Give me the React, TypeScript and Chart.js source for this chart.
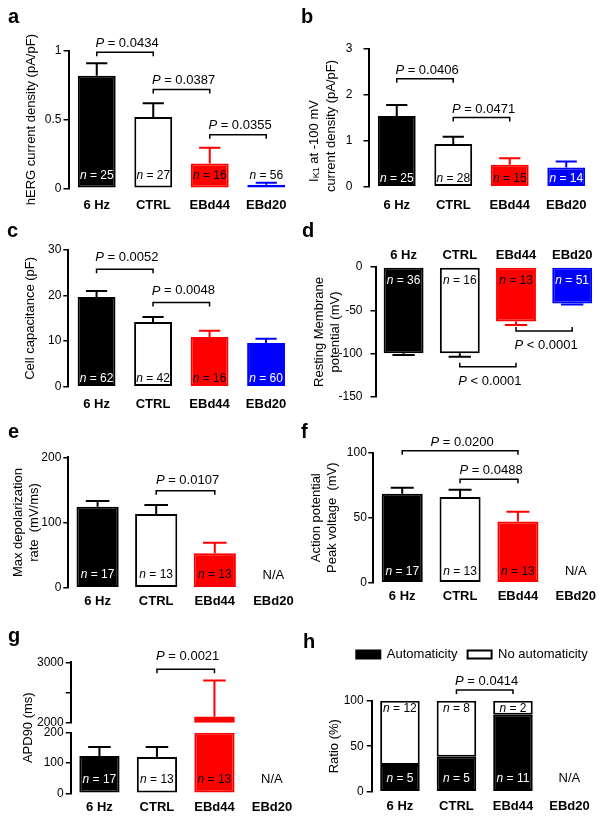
import React, { useEffect, useRef } from 'react';
import { Chart, registerables } from 'chart.js';

Chart.register(...registerables);

const FONT = "'Liberation Sans', Arial, Helvetica, sans-serif";
Chart.defaults.font.family = FONT;
Chart.defaults.color = '#000000';

// ---------------- data ----------------
const groups = ['6 Hz', 'CTRL', 'EBd44', 'EBd20'];

// a: hERG current density (pA/pF)
const hergMean = [0.82, 0.52, 0.18, 0.025];
const hergSem = [0.09, 0.1, 0.115, 0.015];
const hergN = [25, 27, 16, 56];

// b: IK1 at -100 mV current density (pA/pF)
const ik1Mean = [1.54, 0.93, 0.48, 0.42];
const ik1Sem = [0.24, 0.16, 0.14, 0.13];
const ik1N = [25, 28, 15, 14];

// c: cell capacitance (pF)
const capMean = [19.7, 14.2, 10.9, 9.6];
const capSem = [1.3, 1.1, 1.4, 0.9];
const capN = [62, 42, 16, 60];

// d: resting membrane potential (mV)
const rmpMean = [-99.5, -99.5, -63, -42];
const rmpSem = [2, 4, 4, 1.3];
const rmpN = [36, 16, 13, 51];

// e: max depolarization rate (mV/ms)
const dvdtMean = [124, 113, 53, null];
const dvdtSem = [9, 14, 16, null];
const dvdtN = [17, 13, 13, null];

// f: action potential peak voltage (mV)
const peakMean = [68.5, 66, 47, null];
const peakSem = [4.5, 5.5, 7.5, null];
const peakN = [17, 13, 13, null];

// g: APD90 (ms)
const apdMean = [123, 120, 2100, null];
const apdSem = [30, 33, 600, null];
const apdN = [17, 13, 13, null];

// h: automaticity counts
const autoN = [5, 5, 11, null];
const noAutoN = [12, 8, 2, null];

// significance annotations (level "at" in axis units)
const hergP = [
  { from: 0, to: 1, p: '= 0.0434', at: 0.99 },
  { from: 1, to: 2, p: '= 0.0387', at: 0.72 },
  { from: 2, to: 3, p: '= 0.0355', at: 0.39 },
];
const ik1P = [
  { from: 0, to: 1, p: '= 0.0406', at: 2.35 },
  { from: 1, to: 2, p: '= 0.0471', at: 1.51 },
];
const capP = [
  { from: 0, to: 1, p: '= 0.0052', at: 25.8 },
  { from: 1, to: 2, p: '= 0.0048', at: 18.5 },
];
const rmpP = [
  { from: 1, to: 2, p: '< 0.0001', at: -115 },
  { from: 2, to: 3, p: '< 0.0001', at: -73.8 },
];
const dvdtP = [{ from: 1, to: 2, p: '= 0.0107', at: 148.8 }];
const peakP = [
  { from: 0, to: 2, p: '= 0.0200', at: 101.5 },
  { from: 1, to: 2, p: '= 0.0488', at: 79.5 },
];
const apdP = [{ from: 1, to: 2, p: '= 0.0021', at: 2884 }];
const autoP = [{ from: 1, to: 2, p: '= 0.0414', at: 111.8 }];

// ---------------- styles / layout ----------------
const fills = ['#000000', '#ffffff', '#ff0000', '#0000ff'];
const edges = ['#000000', '#000000', '#ff0000', '#0000ff'];
const nColors = ['#ffffff', '#000000', '#000000', '#ffffff'];

const CW = 606;
const CH = 821;
const LOW_MAX = 200;
const HIGH_MIN = 2000;
const HIGH_MAX = 3000;

const G: any = {
  a: { left: 0, x0: 68.5, x1: 294.5, y0: 51, y1: 188.3, bar: 0.67 },
  b: { left: 300, x0: 368.5, x1: 594.5, y0: 49, y1: 186.7, bar: 0.67 },
  c: { left: 0, x0: 68.3, x1: 294.3, y0: 250, y1: 386.7, bar: 0.67 },
  d: { left: 300, x0: 375.5, x1: 600.3, y0: 267, y1: 397, bar: 0.71 },
  e: { left: 0, x0: 68.3, x1: 302.7, y0: 457.3, y1: 587.7, bar: 0.72 },
  f: { left: 300, x0: 373.3, x1: 604.7, y0: 452.7, y1: 582.7, bar: 0.71 },
  g: { left: 0, x0: 70.7, x1: 300.7, y0: 662.3, y1: 793.3, bar: 0.7 },
  h: { left: 300, x0: 371.7, x1: 597.7, y0: 700.7, y1: 791.7, bar: 0.7 },
};

type Part = { t: string; italic?: boolean; size?: number; dy?: number };

function drawParts(ctx: CanvasRenderingContext2D, parts: Part[], x: number, y: number, size: number, color: string) {
  ctx.save();
  ctx.fillStyle = color;
  ctx.textBaseline = 'middle';
  ctx.textAlign = 'left';
  const fonts = parts.map((p) => `${p.italic ? 'italic ' : ''}${p.size ?? size}px ${FONT}`);
  const widths = parts.map((p, i) => {
    ctx.font = fonts[i];
    return ctx.measureText(p.t).width;
  });
  const total = widths.reduce((s, w) => s + w, 0);
  let cx = x - total / 2;
  parts.forEach((p, i) => {
    ctx.font = fonts[i];
    ctx.fillText(p.t, cx, y + (p.dy ?? 0));
    cx += widths[i];
  });
  ctx.restore();
}

function drawRotated(ctx: CanvasRenderingContext2D, parts: Part[], cx: number, cy: number, size: number) {
  ctx.save();
  ctx.translate(cx, cy);
  ctx.rotate(-Math.PI / 2);
  drawParts(ctx, parts, 0, 0, size, '#000000');
  ctx.restore();
}

function decor(d: any) {
  return {
    id: 'decor',
    afterDraw(chart: any) {
      const ctx: CanvasRenderingContext2D = chart.ctx;
      const x = chart.scales.x;
      const yFor = d.yFor || (() => chart.scales.y);
      ctx.save();
      // panel letter
      ctx.font = `bold 20px ${FONT}`;
      ctx.fillStyle = '#000';
      ctx.textBaseline = 'alphabetic';
      ctx.textAlign = 'left';
      ctx.fillText(d.letter[0], d.letter[1], d.letter[2]);
      // error bars
      if (d.means && d.sems) {
        const meta = chart.getDatasetMeta(0);
        d.means.forEach((m: number | null, i: number) => {
          const s = d.sems[i];
          if (m == null || s == null) return;
          const ys = yFor(chart, i);
          const cx = x.getPixelForValue(i);
          const w = meta.data[i].width;
          const sign = m < 0 ? -1 : 1;
          const p0 = ys.getPixelForValue(m);
          const p1 = ys.getPixelForValue(m + sign * s);
          ctx.strokeStyle = edges[i];
          ctx.lineWidth = 2;
          ctx.beginPath();
          ctx.moveTo(cx, p0);
          ctx.lineTo(cx, p1);
          ctx.moveTo(cx - w * 0.28, p1);
          ctx.lineTo(cx + w * 0.28, p1);
          ctx.stroke();
        });
      }
      // n labels
      if (d.ns) {
        const zs = d.zeroAxis ? chart.scales[d.zeroAxis] : chart.scales.y;
        const zero = zs.getPixelForValue(0);
        d.ns.forEach((n: number | null, i: number) => {
          const cx = x.getPixelForValue(i);
          const cy = d.nDown ? zero + d.nOff : zero - d.nOff;
          if (n == null) {
            drawParts(ctx, [{ t: 'N/A' }], cx, cy, 13, '#000');
            return;
          }
          const end = yFor(chart, i).getPixelForValue(d.means[i]);
          const covered = d.nDown ? end > cy + 6 : end < cy - 6;
          drawParts(ctx, [{ t: 'n', italic: true }, { t: ` = ${n}` }], cx, cy, 12, covered ? nColors[i] : '#000');
        });
      }
      // significance brackets
      if (d.brackets) {
        const ys = d.bracketAxis ? chart.scales[d.bracketAxis] : chart.scales.y;
        const dir = d.below ? -1 : 1;
        d.brackets.forEach((b: any) => {
          const x1 = x.getPixelForValue(b.from);
          const x2 = x.getPixelForValue(b.to);
          const y = ys.getPixelForValue(b.at);
          ctx.strokeStyle = '#000';
          ctx.lineWidth = 1.5;
          ctx.beginPath();
          ctx.moveTo(x1, y + 4 * dir);
          ctx.lineTo(x1, y);
          ctx.lineTo(x2, y);
          ctx.lineTo(x2, y + 4 * dir);
          ctx.stroke();
          const ty = d.below ? y + d.gap : y - d.gap;
          drawParts(ctx, [{ t: 'P', italic: true }, { t: ' ' + b.p }], (x1 + x2) / 2 + 2, ty, 13, '#000');
        });
      }
      if (d.extra) d.extra(chart, ctx);
      ctx.restore();
    },
  };
}

// x axis box height grows with the label padding so the labels are not clipped
const xHeight = (pad: number) => pad + 19;

function xAxis(pad: number, position = 'bottom') {
  return {
    type: 'category',
    position,
    offset: true,
    afterFit: (s: any) => {
      s.height = xHeight(pad);
    },
    grid: { display: false, drawTicks: false },
    border: { display: false },
    ticks: { font: { size: 13, weight: 'bold' }, color: '#000', padding: pad, autoSkip: false, maxRotation: 0 },
  };
}

function yAxis(g: any, min: number, max: number, step: number, title: any, titlePad: number, tickPad: number, cb?: (v: number) => string) {
  return {
    type: 'linear',
    position: 'left',
    min,
    max,
    afterFit: (s: any) => {
      s.width = g.x0 - g.left;
    },
    ticks: { stepSize: step, font: { size: 12 }, color: '#000', padding: tickPad, callback: cb || ((v: number) => String(v)) },
    grid: { display: true, drawOnChartArea: false, drawTicks: true, tickLength: 5, color: '#000', lineWidth: 1.5 },
    border: { display: true, color: '#000', width: 2 },
    title: title
      ? { display: true, text: title, font: { size: 13, lineHeight: 1.23 }, color: '#000', padding: { top: titlePad, bottom: 0 } }
      : { display: false },
  };
}

const baseOpts = {
  responsive: false,
  animation: false,
  devicePixelRatio: 1,
  events: [],
};

function simplePanel(canvas: HTMLCanvasElement, c: any) {
  const g = c.g;
  const xh = xHeight(c.xPad);
  return new Chart(canvas, {
    type: 'bar',
    data: {
      labels: groups,
      datasets: [
        {
          data: c.means,
          backgroundColor: fills,
          borderColor: edges,
          borderWidth: 2,
          borderSkipped: false,
          barPercentage: g.bar,
          categoryPercentage: 1,
        },
      ],
    },
    options: {
      ...baseOpts,
      layout: {
        padding: {
          left: g.left,
          right: CW - g.x1,
          top: c.xTop ? g.y0 - xh : g.y0,
          bottom: c.xTop ? CH - g.y1 : CH - g.y1 - xh,
        },
      },
      plugins: { legend: { display: false }, tooltip: { enabled: false } },
      scales: {
        x: xAxis(c.xPad, c.xTop ? 'top' : 'bottom'),
        y: yAxis(g, c.min, c.max, c.step, c.title, c.titlePad, c.tickPad),
      },
    } as any,
    plugins: [
      decor({
        letter: c.letter,
        means: c.means,
        sems: c.sems,
        ns: c.ns,
        nOff: c.nOff,
        nDown: !!c.xTop,
        brackets: c.brackets,
        below: !!c.xTop,
        gap: c.gap,
        extra: c.extra,
      }),
    ],
  } as any);
}

function panelA(cv: HTMLCanvasElement) {
  return simplePanel(cv, {
    g: G.a, means: hergMean, sems: hergSem, ns: hergN, min: 0, max: 1, step: 0.5,
    title: 'hERG current density (pA/pF)', titlePad: 23, tickPad: 2, xPad: 8.9,
    nOff: 13, brackets: hergP, gap: 9, letter: ['a', 8, 23],
  });
}

function panelB(cv: HTMLCanvasElement) {
  return simplePanel(cv, {
    g: G.b, means: ik1Mean, sems: ik1Sem, ns: ik1N, min: 0, max: 3, step: 1,
    title: null, titlePad: 0, tickPad: 11, xPad: 10.5,
    nOff: 8.5, brackets: ik1P, gap: 8, letter: ['b', 301, 23],
    extra: (_c: any, ctx: CanvasRenderingContext2D) => {
      drawRotated(ctx, [{ t: 'I' }, { t: 'K1', size: 9, dy: 3 }, { t: ' at -100 mV' }], 314, 141, 13);
      drawRotated(ctx, [{ t: 'current density (pA/pF)' }], 331, 126, 13);
    },
  });
}

function panelC(cv: HTMLCanvasElement) {
  return simplePanel(cv, {
    g: G.c, means: capMean, sems: capSem, ns: capN, min: 0, max: 30, step: 10,
    title: 'Cell capacitance (pF)', titlePad: 22, tickPad: 2, xPad: 9.5,
    nOff: 8, brackets: capP, gap: 11.5, letter: ['c', 7, 237],
  });
}

function panelD(cv: HTMLCanvasElement) {
  return simplePanel(cv, {
    g: G.d, means: rmpMean, sems: rmpSem, ns: rmpN, min: -150, max: 0, step: 50,
    title: ['Resting Membrane', 'potential (mV)'], titlePad: 11, tickPad: 8, xPad: 4.2, xTop: true,
    nOff: 14, brackets: rmpP, gap: 14.5, letter: ['d', 302, 237],
  });
}

function panelE(cv: HTMLCanvasElement) {
  return simplePanel(cv, {
    g: G.e, means: dvdtMean, sems: dvdtSem, ns: dvdtN, min: 0, max: 200, step: 100,
    title: ['Max depolarization', 'rate  (mV/ms)'], titlePad: 10, tickPad: 2, xPad: 6.2,
    nOff: 12.7, brackets: dvdtP, gap: 10.7, letter: ['e', 8, 438],
  });
}

function panelF(cv: HTMLCanvasElement) {
  return simplePanel(cv, {
    g: G.f, means: peakMean, sems: peakSem, ns: peakN, min: 0, max: 100, step: 50,
    title: ['Action potential', 'Peak voltage  (mV)'], titlePad: 8, tickPad: 1.5, xPad: 6.2,
    nOff: 11, brackets: peakP, gap: 8.7, letter: ['f', 301, 438],
  });
}

function panelG(cv: HTMLCanvasElement) {
  const g = G.g;
  const xPad = 6.6;
  const low = apdMean.map((v) => (v == null ? null : Math.min(v, LOW_MAX)));
  const high = apdMean.map((v) => (v != null && v > HIGH_MIN ? [HIGH_MIN, v] : null));
  const barStyle = {
    backgroundColor: fills,
    borderColor: edges,
    borderSkipped: false,
    barPercentage: g.bar,
    categoryPercentage: 1,
    grouped: false,
  };
  const yFor = (chart: any, i: number) => ((apdMean[i] ?? 0) > LOW_MAX ? chart.scales.yHigh : chart.scales.yLow);
  return new Chart(cv, {
    type: 'bar',
    data: {
      labels: groups,
      datasets: [
        { data: low, yAxisID: 'yLow', borderWidth: 2, ...barStyle },
        { data: high, yAxisID: 'yHigh', borderWidth: 0, ...barStyle },
      ],
    },
    options: {
      ...baseOpts,
      layout: { padding: { left: g.left, right: CW - g.x1, top: g.y0, bottom: CH - g.y1 - xHeight(xPad) } },
      plugins: { legend: { display: false }, tooltip: { enabled: false } },
      scales: {
        x: xAxis(xPad),
        yLow: { ...yAxis(g, 0, LOW_MAX, 100, null, 0, 2), stack: 'apd', stackWeight: 60.6, weight: 1 },
        yGap: {
          type: 'linear',
          position: 'left',
          stack: 'apd',
          stackWeight: 10,
          weight: 2,
          afterFit: (s: any) => {
            s.width = g.x0 - g.left;
          },
          grid: { display: false, drawTicks: false },
          border: { display: false },
          ticks: { display: false },
          title: { display: true, text: 'APD90 (ms)', font: { size: 13, lineHeight: 1.23 }, color: '#000', padding: { top: 20, bottom: 0 } },
        },
        yHigh: {
          ...yAxis(g, HIGH_MIN, HIGH_MAX, 500, null, 0, 2, (v: number) => (v === 2500 ? '' : String(v))),
          stack: 'apd',
          stackWeight: 60.4,
          weight: 3,
        },
      },
    } as any,
    plugins: [
      decor({
        letter: ['g', 8, 642],
        means: apdMean,
        sems: apdSem,
        ns: apdN,
        nOff: 14,
        yFor,
        zeroAxis: 'yLow',
        brackets: apdP,
        bracketAxis: 'yHigh',
        gap: 12.6,
      }),
    ],
  } as any);
}

function panelH(cv: HTMLCanvasElement) {
  const g = G.h;
  const xPad = 7.2;
  const autoPct = autoN.map((a, i) => (a == null ? null : (100 * a) / (a + (noAutoN[i] as number))));
  const noAutoPct = noAutoN.map((b, i) => (b == null ? null : (100 * b) / (b + (autoN[i] as number))));
  const legendTop = 638;
  const legendPatch = {
    id: 'legendHeight',
    beforeLayout(chart: any) {
      const lg = chart.legend;
      if (lg && !lg.__patched) {
        const orig = lg.fit.bind(lg);
        lg.fit = () => {
          orig();
          lg.height = g.y0 - legendTop;
        };
        lg.__patched = true;
      }
    },
  };
  const common = { borderColor: '#000', borderWidth: 2, borderSkipped: false, barPercentage: g.bar, categoryPercentage: 1 };
  return new Chart(cv, {
    type: 'bar',
    data: {
      labels: groups,
      datasets: [
        { label: 'Automaticity', data: autoPct, backgroundColor: '#000', ...common },
        { label: 'No automaticity', data: noAutoPct, backgroundColor: '#fff', ...common },
      ],
    },
    options: {
      ...baseOpts,
      layout: { padding: { left: g.left, right: CW - g.x1, top: legendTop, bottom: CH - g.y1 - xHeight(xPad) } },
      plugins: {
        legend: {
          display: true,
          position: 'top',
          align: 'end',
          labels: { boxWidth: 24, boxHeight: 8, padding: 10, font: { size: 13 }, color: '#000' },
        },
        tooltip: { enabled: false },
      },
      scales: {
        x: { ...xAxis(xPad), stacked: true },
        y: { ...yAxis(g, 0, 100, 50, 'Ratio (%)', 26, 3), stacked: true },
      },
    } as any,
    plugins: [
      legendPatch,
      decor({
        letter: ['h', 303, 648],
        brackets: autoP,
        gap: 9,
        extra: (chart: any, ctx: CanvasRenderingContext2D) => {
          const x = chart.scales.x;
          const y = chart.scales.y;
          autoN.forEach((a, i) => {
            const cx = x.getPixelForValue(i);
            const bottom = y.getPixelForValue(0) - 13.4;
            if (a == null) {
              drawParts(ctx, [{ t: 'N/A' }], cx, bottom, 13, '#000');
              return;
            }
            drawParts(ctx, [{ t: 'n', italic: true }, { t: ` = ${a}` }], cx, bottom, 12, '#fff');
            drawParts(ctx, [{ t: 'n', italic: true }, { t: ` = ${noAutoN[i]}` }], cx, y.getPixelForValue(100) + 8.3, 12, '#000');
          });
        },
      }),
    ],
  } as any);
}

const builders = [panelA, panelB, panelC, panelD, panelE, panelF, panelG, panelH];

export default function App() {
  const refs = useRef<(HTMLCanvasElement | null)[]>([]);
  useEffect(() => {
    const charts = builders.map((b, i) => b(refs.current[i] as HTMLCanvasElement));
    return () => charts.forEach((c) => c.destroy());
  }, []);
  return (
    <div style={{ position: 'absolute', left: 0, top: 0, width: 603, height: 821, overflow: 'hidden', background: '#fff' }}>
      {builders.map((_, i) => (
        <canvas
          key={i}
          ref={(el) => {
            refs.current[i] = el;
          }}
          width={CW}
          height={CH}
          style={{ position: 'absolute', left: 0, top: 0, width: CW, height: CH }}
        />
      ))}
    </div>
  );
}
